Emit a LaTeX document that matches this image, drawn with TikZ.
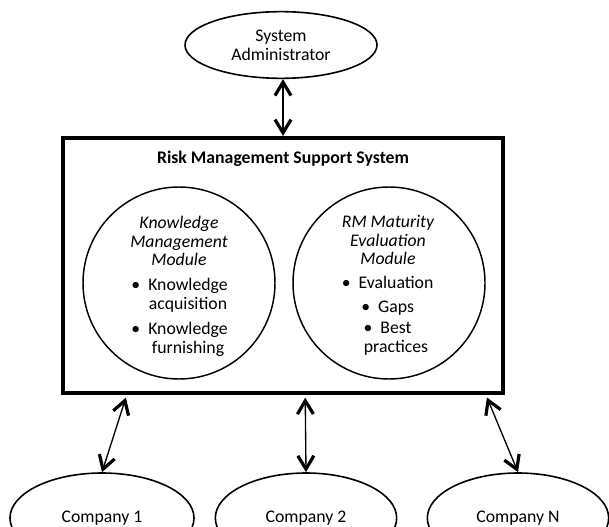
\documentclass[tikz,border=0pt]{standalone}
\usepackage{fontspec}
\setmainfont{Carlito}
\usetikzlibrary{arrows.meta, calc, shapes.geometric}

\begin{document}
\begin{tikzpicture}[x=0.75pt, y=-0.75pt,
        >={Straight Barb[length=10pt,width=12pt,line width=2.4pt]},
        every node/.style={font=\fontsize{13.3}{14}\selectfont, inner sep=0pt},
        actor/.style={draw, ellipse, line width=1.2pt, align=center},
        module/.style={draw, circle, line width=1.1pt, minimum size=144pt},
        link/.style={<->, line width=1pt, shorten <=2pt}]
        \useasboundingbox (0,0) rectangle (609,527);
        \clip (0,0) rectangle (609,527);
        % actors
        \node[actor, minimum width=144pt, minimum height=50pt] (admin) at (281,45) {System\\Administrator};
        \node[actor, minimum width=138pt, minimum height=67.5pt] (c1) at (102,518) {Company 1};
        \node[actor, minimum width=136pt, minimum height=67.5pt] (c2) at (306,518) {Company 2};
        \node[actor, minimum width=136pt, minimum height=67.5pt] (cn) at (518,518) {Company N};
        % system box
        \node[draw, line width=3pt, minimum width=330pt, minimum height=191.25pt] (rmss) at (283,265.5) {};
        \node[font=\fontsize{13.3}{14}\selectfont\bfseries] (title) at (283,159) {Risk Management Support System};
        % modules
        \node[module] (km) at (179,283) {};
        \node[module] (rm) at (389,283) {};
        \node[align=center, font=\fontsize{13.3}{13.8}\selectfont\itshape] (kmtitle) at (179,241) {Knowledge\\Management\\Module};
        \node[align=center, font=\fontsize{13.3}{14.2}\selectfont] (kmlist) at (188,317)
            {\llap{\textbullet\hspace{6pt}}Knowledge\\acquisition\\[4.5pt]\llap{\textbullet\hspace{6pt}}Knowledge\\furnishing};
        \node[align=center, font=\fontsize{13.3}{13.8}\selectfont\itshape] (rmtitle) at (388,240) {RM Maturity\\Evaluation\\Module};
        \node[align=center, font=\fontsize{13.3}{14.2}\selectfont] (rmlist) at (396,316)
            {\llap{\textbullet\hspace{6pt}}Evaluation\\[3.5pt]\llap{\textbullet\hspace{6pt}}Gaps\\[2pt]\llap{\textbullet\hspace{6pt}}Best\\practices};
        % connections
        \draw[<->, line width=1.5pt] (rmss.north |- admin.south) -- (rmss.north);
        \draw[link] ($(rmss.south west)!0.148!(rmss.south east)$) -- (c1.north);
        \draw[link] ($(rmss.south west)!0.55!(rmss.south east)$) -- (c2.north);
        \draw[link] ($(rmss.south west)!0.957!(rmss.south east)$) -- (cn.north);
    \end{tikzpicture}
\end{document}
